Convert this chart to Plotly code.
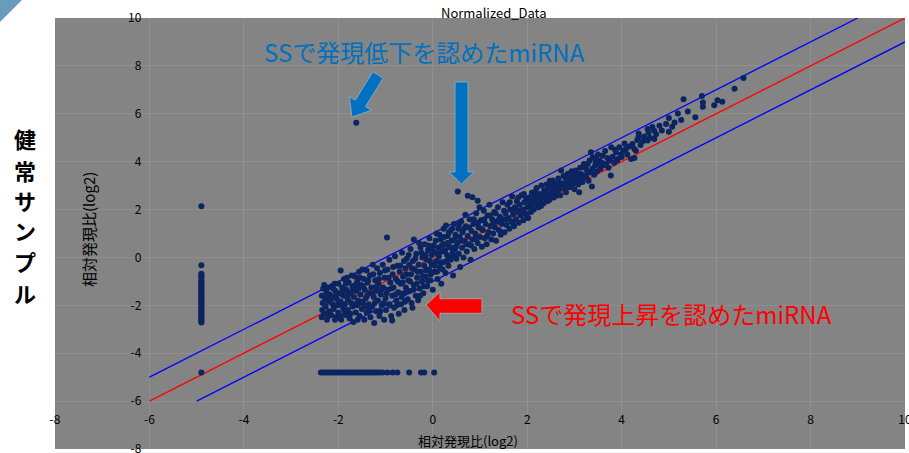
import plotly.graph_objects as go

# ---------------- data ----------------
axis_range = [-8, 10]
tick_vals = [-8, -6, -4, -2, 0, 2, 4, 6, 8, 10]
tick_text = ["-8", "-6", "-4", "-2", "0", "2", "4", "6", "8", "10"]

# reference lines (y = x, y = x + 1, y = x - 1)
ref_x = [-6, 10]
ref_y = [-6, 10]
upper_x = [-6, 9]
upper_y = [-5, 10]
lower_x = [-5, 10]
lower_y = [-6, 9]

# miRNAs not detected in SS (x fixed at the floor value)
col_x_value = -4.9
col_y = [2.14, -0.33, -0.68, -0.74, -0.8, -0.86, -0.96, -1.02, -1.08, -1.13, -1.19,
         -1.25, -1.3, -1.36, -1.42, -1.47, -1.53, -1.58, -1.64, -1.7, -1.75, -1.81,
         -1.86, -1.92, -1.98, -2.03, -2.09, -2.14, -2.2, -2.26, -2.31, -2.37, -2.43,
         -2.48, -2.54, -2.6, -2.66, -2.72, -4.8]

# miRNAs not detected in healthy samples (y fixed at the floor value)
row_y_value = -4.8
row_x = [-2.37, -2.32, -2.27, -2.22, -2.17, -2.12, -2.07, -2.02, -1.97, -1.92, -1.87,
         -1.82, -1.77, -1.72, -1.67, -1.62, -1.57, -1.52, -1.47, -1.42, -1.37, -1.32,
         -1.27, -1.22, -1.17, -1.12, -1.06, -0.96, -0.85, -0.75, -0.5, -0.25, -0.18, 0.03]

# main cloud (SS log2 ratio, healthy log2 ratio)
cloud_pts = [
    (-2.35, -2.5), (-2.34, -2.2), (-2.33, -1.9), (-2.35, -1.6), (-2.32, -1.3), (-2.3, -1.15),
    (-2.3, -2.35), (-2.28, -1.75), (-2.27, -2.05), (-2.25, -1.45), (-2.24, -2.6), (-2.22, -1.25),
    (-2.2, -1.85), (-2.2, -2.25), (-2.18, -1.55), (-2.15, -2.4), (-2.14, -1.2), (-2.12, -1.95),
    (-2.1, -1.65), (-2.1, -2.15), (-2.08, -1.1), (-2.06, -1.4), (-2.05, -2.5), (-2.03, -1.75),
    (-2.02, -2.0), (-2.0, -1.1), (-2.0, -2.3), (-1.98, -1.5), (-1.95, -0.55), (-1.95, -1.85),
    (-1.94, -2.6), (-1.92, -1.25), (-1.9, -2.1), (-1.9, -1.6), (-1.88, -0.9), (-1.86, -1.95),
    (-1.85, -2.4), (-1.83, -1.35), (-1.82, -0.85), (-1.8, -1.75), (-1.8, -2.2), (-1.78, -1.05),
    (-1.76, -2.55), (-1.75, -1.5), (-1.73, -1.9), (-1.72, -0.75), (-1.7, -2.05), (-1.7, -1.2),
    (-1.68, -2.7), (-1.67, -1.65), (-1.65, -0.8), (-1.63, -2.3), (-1.62, -1.4), (-1.6, -1.0),
    (-1.6, -2.0), (-1.58, -1.8), (-1.56, -0.6), (-1.55, -2.45), (-1.53, -1.55), (-1.52, -1.15),
    (-1.5, -2.15), (-1.49, -0.5), (-1.48, -1.85), (-1.46, -0.9), (-1.45, -2.6), (-1.44, -1.35),
    (-1.42, -1.7), (-1.4, -0.55), (-1.4, -2.3), (-1.38, -1.05), (-1.36, -1.95), (-1.35, -1.5),
    (-1.33, -0.75), (-1.32, -2.5), (-1.3, -1.25), (-1.28, -2.05), (-1.27, -0.3), (-1.25, -1.65),
    (-1.24, -2.74), (-1.22, -0.95), (-1.2, -1.4), (-1.2, -2.25), (-1.18, -0.45), (-1.16, -1.8),
    (-1.15, -1.1), (-1.13, -2.45), (-1.12, -0.65), (-1.1, -1.55), (-1.08, -2.0), (-1.06, -0.3),
    (-1.05, -1.25), (-1.03, -2.6), (-1.02, -0.85), (-1.0, -1.7),
    (-0.99, -2.2), (-0.97, 0.83), (-0.96, -0.5), (-0.95, -1.35), (-0.93, -1.95), (-0.92, -0.1),
    (-0.9, -1.05), (-0.88, -2.45), (-0.86, -2.63), (-0.86, -1.6), (-0.85, -0.7), (-0.83, -1.25),
    (-0.82, -2.1), (-0.8, 0.05), (-0.78, -0.9), (-0.77, -1.8), (-0.75, -0.35), (-0.73, -1.45),
    (-0.72, -2.35), (-0.7, -0.6), (-0.68, -1.1), (-0.67, -1.95), (-0.65, 0.2), (-0.63, -0.8),
    (-0.62, -1.5), (-0.6, -2.2), (-0.58, -0.45), (-0.57, -1.25), (-0.55, -0.05), (-0.53, -1.75),
    (-0.52, -0.95), (-0.5, -0.3),
    (-0.49, -1.4), (-0.47, 0.35), (-0.46, -0.7), (-0.45, -1.9), (-0.43, -2.1), (-0.42, -0.15),
    (-0.4, 0.75), (-0.4, -1.15), (-0.38, -0.5), (-0.36, -1.6), (-0.35, 0.15), (-0.33, -0.85),
    (-0.31, -1.79), (-0.3, -0.3), (-0.29, 0.6), (-0.28, -1.3), (-0.26, 0.4), (-0.25, -0.6),
    (-0.23, -1.0), (-0.22, 0.0), (-0.2, -1.5), (-0.18, -0.35), (-0.17, 0.55), (-0.15, -0.8),
    (-0.13, -0.1), (-0.12, -1.2), (-0.1, 0.3), (-0.08, -0.5), (-0.07, 0.8), (-0.05, -0.95),
    (-0.03, 0.1), (-0.02, -0.3), (0.0, -1.35),
    (0.02, 0.5), (0.03, -0.6), (0.05, 0.2), (0.07, -0.15), (0.08, 1.0), (0.1, -0.9), (0.12, 0.4),
    (0.13, 0.05), (0.15, -0.4), (0.17, 0.75), (0.18, -1.1), (0.2, 0.25), (0.22, -0.2), (0.23, 1.2),
    (0.25, 0.55), (0.27, -0.65), (0.28, 1.33), (0.3, 0.1), (0.32, 0.9), (0.33, -0.35), (0.35, 0.45),
    (0.37, 1.1), (0.38, -0.1), (0.4, 0.7), (0.42, 0.2), (0.43, -0.75), (0.45, 1.4), (0.47, 0.35),
    (0.48, 0.95), (0.5, -0.05),
    (0.52, 0.6), (0.53, 2.75), (0.54, 1.2), (0.55, 0.15), (0.57, 0.85), (0.58, -0.4), (0.6, 1.5),
    (0.62, 0.4), (0.63, 1.05), (0.65, 0.0), (0.67, 0.7), (0.69, 1.78), (0.7, 1.3), (0.72, 0.25),
    (0.74, 2.58), (0.74, 0.9), (0.76, 0.55), (0.78, 1.6), (0.8, -0.1), (0.82, 1.1), (0.84, 2.51),
    (0.84, 0.75), (0.86, 1.4), (0.88, 0.35), (0.9, 1.0), (0.92, 1.85), (0.95, 2.37), (0.95, 0.6),
    (0.97, 1.25), (0.99, 2.1), (1.0, 0.85),
    (1.02, 1.55), (1.04, 0.45), (1.06, 1.15), (1.08, 1.95), (1.1, 0.8), (1.12, 1.4), (1.14, 0.55),
    (1.16, 1.75), (1.18, 1.05), (1.2, 2.2), (1.22, 1.3), (1.24, 0.75), (1.26, 1.6), (1.28, 1.0),
    (1.3, 1.9), (1.32, 1.25), (1.34, 0.7), (1.36, 1.5), (1.38, 2.1), (1.4, 1.15), (1.42, 1.7),
    (1.44, 0.95), (1.46, 1.4), (1.48, 2.3), (1.5, 1.6),
    (1.52, 1.05), (1.54, 1.85), (1.56, 1.35), (1.58, 2.2), (1.6, 1.65), (1.62, 1.2), (1.64, 2.0),
    (1.66, 1.5), (1.68, 2.55), (1.7, 1.8), (1.72, 1.3), (1.74, 2.1), (1.76, 1.6), (1.78, 2.35),
    (1.8, 1.95), (1.82, 1.45), (1.84, 2.2), (1.86, 1.75), (1.88, 2.6), (1.9, 2.0), (1.92, 1.55),
    (1.94, 2.3), (1.96, 1.85), (1.98, 2.45), (2.0, 2.1),
    (2.02, 1.65), (2.04, 2.5), (2.06, 2.2), (2.08, 1.9), (2.1, 2.7), (2.12, 2.35), (2.14, 2.0),
    (2.16, 2.55), (2.18, 2.25), (2.2, 2.9), (2.22, 2.4), (2.24, 2.1), (2.26, 2.65), (2.28, 2.35),
    (2.3, 3.0), (2.32, 2.55), (2.34, 2.25), (2.36, 2.8), (2.38, 2.5), (2.4, 2.79), (2.42, 2.35),
    (2.44, 2.95), (2.46, 2.6), (2.48, 3.2), (2.5, 2.65),
    (2.52, 2.85), (2.54, 3.21), (2.56, 2.5), (2.58, 3.0), (2.61, 3.07), (2.61, 2.58), (2.64, 2.8),
    (2.66, 3.3), (2.68, 2.86), (2.7, 2.6), (2.72, 3.63), (2.74, 3.1), (2.75, 3.07), (2.78, 2.9),
    (2.8, 3.35), (2.82, 2.72), (2.84, 3.15), (2.86, 3.5), (2.89, 2.93), (2.9, 3.25), (2.92, 3.0),
    (2.94, 3.6), (2.96, 3.42), (2.98, 3.1), (3.0, 2.85),
    (3.03, 3.63), (3.05, 3.3), (3.08, 3.05), (3.1, 3.21), (3.1, 2.72), (3.12, 3.75), (3.14, 3.49),
    (3.17, 3.15), (3.2, 3.9), (3.21, 3.76), (3.23, 3.4), (3.25, 3.35), (3.27, 3.6), (3.28, 3.9),
    (3.3, 3.2), (3.32, 4.05), (3.35, 4.39), (3.37, 2.96), (3.38, 3.7), (3.39, 4.18), (3.42, 3.45),
    (3.44, 3.85), (3.46, 4.11), (3.48, 3.6), (3.5, 4.3),
    (3.53, 4.04), (3.55, 3.7), (3.58, 3.95), (3.6, 4.25), (3.62, 3.85), (3.65, 4.45), (3.67, 3.9),
    (3.7, 4.15), (3.72, 3.75), (3.74, 4.04), (3.77, 3.42), (3.78, 4.6), (3.81, 4.21), (3.84, 3.95),
    (3.86, 4.5), (3.88, 4.39), (3.9, 4.05), (3.92, 4.11), (3.95, 4.6), (3.98, 4.3), (4.0, 4.2),
    (4.03, 4.45), (4.06, 4.76), (4.09, 4.53), (4.12, 4.3), (4.16, 4.63), (4.2, 4.11), (4.23, 4.74),
    (4.27, 4.53), (4.27, 4.15), (4.3, 4.46), (4.33, 4.9), (4.36, 5.18), (4.36, 5.04), (4.4, 4.7),
    (4.45, 4.85), (4.48, 5.05),
    (4.55, 5.36), (4.55, 4.88), (4.57, 5.22), (4.6, 5.0), (4.65, 5.45), (4.69, 5.29), (4.69, 4.95),
    (4.73, 5.15), (4.8, 5.5), (4.85, 5.3), (4.94, 5.57), (5.0, 5.82), (5.0, 5.25),
    (5.07, 5.46), (5.12, 5.64), (5.19, 6.01), (5.26, 5.74), (5.31, 6.61), (5.4, 6.1), (5.56, 5.85),
    (5.7, 6.74), (5.72, 6.47), (5.72, 6.29), (5.96, 6.36), (6.03, 6.57), (6.13, 6.5), (6.39, 7.05),
    (6.58, 7.49),
    (-1.62, 5.63),
    # additional points filling the dense lower-left blob
    (-2.26, -1.6), (-2.21, -2.45), (-2.16, -1.75), (-2.11, -1.3), (-2.07, -2.6), (-2.04, -1.55),
    (-1.99, -1.95), (-1.96, -2.45), (-1.91, -1.45), (-1.87, -2.25), (-1.84, -1.1), (-1.79, -1.55),
    (-1.74, -2.35), (-1.71, -1.4), (-1.66, -1.95), (-1.64, -1.15), (-1.59, -2.6), (-1.57, -1.3),
    (-1.54, -0.85), (-1.51, -1.9), (-1.47, -1.2), (-1.43, -2.05), (-1.39, -1.6), (-1.37, -0.95),
    (-1.34, -2.2), (-1.29, -1.5), (-1.26, -0.7), (-1.23, -1.9), (-1.19, -1.2), (-1.14, -0.9),
    (-1.11, -2.25), (-1.09, -1.35), (-1.04, -1.9), (-1.01, -0.55), (-0.98, -1.5), (-0.94, -0.85),
    (-0.91, -2.0), (-0.87, -1.3), (-0.84, -0.4), (-0.79, -1.55), (-0.76, -2.0), (-0.74, -1.0),
    (-0.69, -0.35), (-0.66, -1.65), (-0.64, -1.05), (-0.61, -0.15), (-0.59, -1.85), (-0.56, -0.7),
    (-0.54, -1.4), (-0.51, 0.1), (-0.48, -1.0), (-0.44, -0.45), (-0.41, -1.35), (-0.37, -0.05),
    (-0.34, -1.1), (-0.32, -0.6), (-0.27, -1.6), (-0.24, 0.2), (-0.21, -0.8), (-0.19, -1.2),
    (-0.16, 0.1), (-0.14, -0.55), (-0.11, -0.95), (-0.09, 0.5), (-0.06, -0.15), (-0.04, -0.7),
    (-0.01, 0.35), (0.04, -0.35), (0.06, 0.7), (0.09, -0.6), (0.11, 0.15), (0.14, 0.95),
    (0.16, -0.2), (0.19, 0.5), (0.21, -0.5), (0.24, 0.85), (0.26, 0.3), (0.29, -0.15),
    (0.31, 0.6), (0.34, 1.05), (0.36, 0.0), (0.39, 0.4), (0.41, 1.2), (0.44, 0.1),
    (0.46, 0.75), (0.49, 0.45),
    # additional points along the middle band
    (0.56, 1.4), (0.61, 0.7), (0.66, 1.2), (0.71, 0.55), (0.77, 1.25), (0.81, 0.5), (0.87, 1.6),
    (0.91, 0.8), (0.96, 1.45), (1.03, 1.2), (1.09, 1.6), (1.15, 0.9), (1.21, 1.75), (1.27, 1.4),
    (1.33, 1.85), (1.39, 1.55), (1.45, 1.05), (1.51, 1.95), (1.57, 1.6), (1.63, 2.3), (1.69, 1.45),
    (1.75, 1.9), (1.81, 2.5), (1.87, 1.95), (1.93, 2.65), (1.99, 1.75), (2.05, 2.35), (2.11, 2.05),
    (2.17, 2.75), (2.23, 2.6), (2.29, 2.15), (2.35, 2.65), (2.41, 3.05), (2.47, 2.4), (2.53, 3.0),
    (2.59, 2.7), (2.65, 3.1), (2.71, 2.9), (2.77, 3.4), (2.83, 3.0), (2.88, 3.45), (2.95, 3.25),
    (3.06, 3.5), (3.15, 3.3), (3.24, 3.75), (3.34, 3.55), (3.45, 4.0), (3.56, 3.85),
]

title_text = "Normalized_Data"
axis_title = "相対発現比(log2)"
side_label = "健常サンプル"
down_label = "SSで発現低下を認めたmiRNA"
up_label = "SSで発現上昇を認めたmiRNA"

# ---------------- layout helpers (pixel -> paper) ----------------
W, H = 909, 453
ML, MR, MT, MB = 55, 4, 18, 4
PW, PH = W - ML - MR, H - MT - MB


def px(xp):
    return (xp - ML) / PW


def py(yp):
    return (H - MB - yp) / PH


def path(points):
    return "M " + " L ".join(f"{px(a):.5f},{py(b):.5f}" for a, b in points) + " Z"


POINT_COLOR = "#0b2462"
FONT = "Noto Sans CJK JP"
MS = 6

fig = go.Figure()
fig.add_trace(go.Scatter(x=ref_x, y=ref_y, mode="lines",
                         line=dict(color="#ff0000", width=1.3), hoverinfo="skip"))
fig.add_trace(go.Scatter(x=upper_x, y=upper_y, mode="lines",
                         line=dict(color="#0000ff", width=1.3), hoverinfo="skip"))
fig.add_trace(go.Scatter(x=lower_x, y=lower_y, mode="lines",
                         line=dict(color="#0000ff", width=1.3), hoverinfo="skip"))

fig.add_trace(go.Scatter(x=[p[0] for p in cloud_pts], y=[p[1] for p in cloud_pts],
                         mode="markers", marker=dict(size=MS, color=POINT_COLOR)))
fig.add_trace(go.Scatter(x=[col_x_value] * len(col_y), y=col_y, mode="markers",
                         marker=dict(size=MS, color=POINT_COLOR)))
fig.add_trace(go.Scatter(x=row_x, y=[row_y_value] * len(row_x), mode="markers",
                         marker=dict(size=MS, color=POINT_COLOR)))

grid = "rgba(255,255,255,0.09)"
fig.update_xaxes(range=axis_range, tickvals=tick_vals, ticktext=tick_text,
                 anchor="free", position=2 / 18, showgrid=True, gridcolor=grid,
                 zeroline=False, showline=False, ticks="", ticklabelstandoff=10,
                 ticklabeloverflow="allow",
                 tickfont=dict(size=12, color="black", family=FONT), automargin=False)
fig.update_yaxes(range=axis_range, tickvals=tick_vals, ticktext=tick_text,
                 anchor="free", position=2 / 18, showgrid=True, gridcolor=grid,
                 zeroline=False, showline=False, ticks="", ticklabelstandoff=8,
                 ticklabeloverflow="allow",
                 tickfont=dict(size=12, color="black", family=FONT), automargin=False)

shapes = [
    # corner decoration
    dict(type="path", xref="paper", yref="paper",
         path=path([(0, 0), (22, 0), (0, 22)]),
         fillcolor="#6b9bbb", line=dict(width=0), layer="above"),
    # diagonal blue arrow
    dict(type="path", xref="paper", yref="paper",
         path=path([(372.9, 71.8), (383.1, 78.2), (365.5, 106.6), (371.5, 110.2),
                    (352, 117), (349.3, 96.6), (355.3, 100.2)]),
         fillcolor="#0070c0", line=dict(color="#7fa9bd", width=1), layer="above"),
    # vertical blue arrow
    dict(type="path", xref="paper", yref="paper",
         path=path([(455, 82), (468, 82), (468, 172), (474, 172), (461.5, 184),
                    (449, 172), (455, 172)]),
         fillcolor="#0070c0", line=dict(color="#7fa9bd", width=1), layer="above"),
    # red arrow
    dict(type="path", xref="paper", yref="paper",
         path=path([(426, 305), (440, 292), (440, 298.7), (482, 298.7), (482, 313.3),
                    (440, 313.3), (440, 321)]),
         fillcolor="#ff0000", line=dict(color="#8fa8ad", width=1), layer="above"),
]

annotations = [
    dict(text=title_text, x=px(493), y=py(12), xref="paper", yref="paper",
         showarrow=False, font=dict(size=13, color="black", family=FONT),
         xanchor="center", yanchor="middle"),
    dict(text=axis_title, x=px(88), y=py(230), xref="paper", yref="paper",
         showarrow=False, textangle=-90, font=dict(size=15, color="black", family=FONT),
         xanchor="center", yanchor="middle"),
    dict(text=axis_title, x=px(468), y=py(440), xref="paper", yref="paper",
         showarrow=False, font=dict(size=13, color="black", family=FONT),
         xanchor="center", yanchor="middle"),
    dict(text=down_label, x=px(424), y=py(51.5), xref="paper", yref="paper",
         showarrow=False, font=dict(size=24, color="#0070c0", family=FONT),
         xanchor="center", yanchor="middle"),
    dict(text=up_label, x=px(671.5), y=py(313), xref="paper", yref="paper",
         showarrow=False, font=dict(size=24, color="#ff0000", family=FONT),
         xanchor="center", yanchor="middle"),
]

# vertical side label, one character per line
side_y = [138, 170, 200, 230, 261, 293]
for ch, yy in zip(side_label, side_y):
    annotations.append(dict(text=ch, x=px(25), y=py(yy), xref="paper", yref="paper",
                            showarrow=False,
                            font=dict(size=22, color="black", family=FONT, weight="bold"),
                            xanchor="center", yanchor="middle"))

fig.update_layout(width=W, height=H,
                  margin=dict(l=ML, r=MR, t=MT, b=MB, autoexpand=False),
                  paper_bgcolor="white", plot_bgcolor="#848484", showlegend=False,
                  shapes=shapes, annotations=annotations,
                  font=dict(family=FONT))

fig.write_html("out.html", config={"displayModeBar": False},
               post_script="document.body.style.margin='0';document.body.style.padding='0';")
